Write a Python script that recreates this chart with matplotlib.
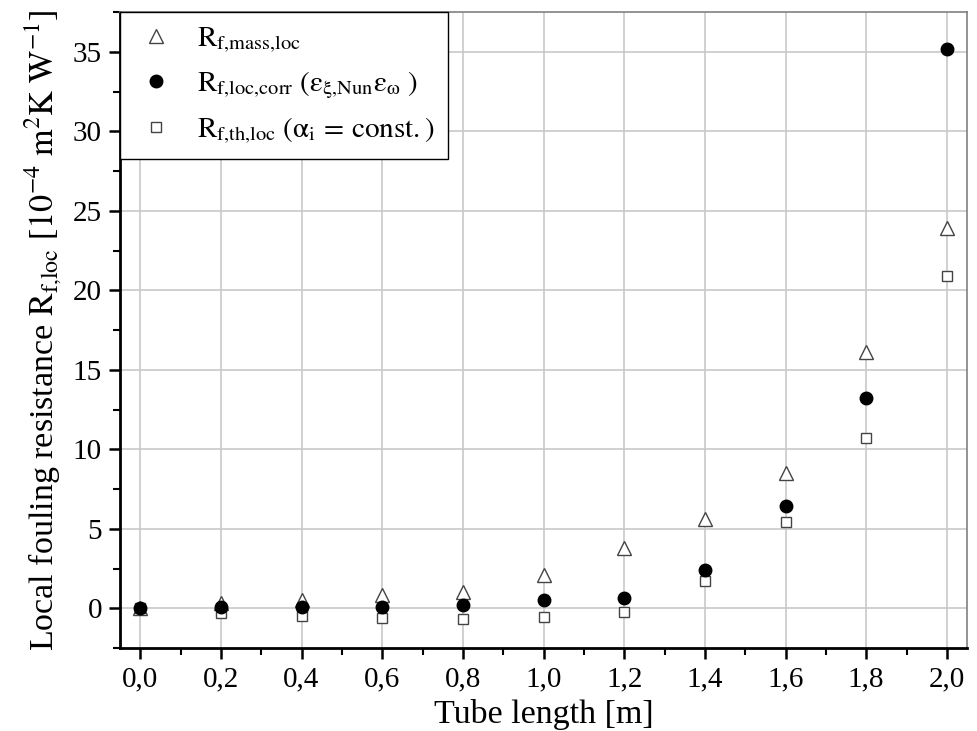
import matplotlib
matplotlib.use("Agg")
import matplotlib.pyplot as plt
from matplotlib.ticker import MultipleLocator, FuncFormatter

plt.rcParams['font.family'] = ['Liberation Serif', 'DejaVu Serif']
plt.rcParams['mathtext.fontset'] = 'stix'

tube_length = [0.0, 0.2, 0.4, 0.6, 0.8, 1.0, 1.2, 1.4, 1.6, 1.8, 2.0]
rf_mass_loc = [0.0, 0.35, 0.5, 0.85, 1.0, 2.1, 3.8, 5.6, 8.5, 16.1, 23.9]
rf_loc_corr = [0.0, 0.05, 0.1, 0.05, 0.2, 0.5, 0.65, 2.4, 6.4, 13.2, 35.2]
rf_th_loc = [0.0, -0.33, -0.5, -0.6, -0.67, -0.54, -0.23, 1.7, 5.4, 10.7, 20.9]

label_mass = r'$\mathrm{R}_{\mathrm{f{,}mass{,}loc}}$'
label_corr = r'$\mathrm{R}_{\mathrm{f{,}loc{,}corr}}\ (\mathrm{ε}_{\mathrm{ξ{,}Nun}}\mathrm{ε}_{\mathrm{ω}}\ )$'
label_th = r'$\mathrm{R}_{\mathrm{f{,}th{,}loc}}\ (\mathrm{α}_{\mathrm{i}}\,=\,\mathrm{const.})$'

fig = plt.figure(figsize=(9.77, 7.31), dpi=100)
ax = fig.add_axes([120/977, 1-648/731, (967-120)/977, (648-12)/731])

ax.plot(tube_length, rf_mass_loc, linestyle='none', marker='^', ms=10,
        mfc='white', mec='#444444', mew=1.0, label=label_mass, zorder=3)
ax.plot(tube_length, rf_loc_corr, linestyle='none', marker='o', ms=9,
        mfc='black', mec='black', label=label_corr, zorder=4)
ax.plot(tube_length, rf_th_loc, linestyle='none', marker='s', ms=7.5,
        mfc='white', mec='#444444', mew=1.0, label=label_th, zorder=3)

ax.set_xlim(-0.05, 2.05)
ax.set_ylim(-2.5, 37.5)
ax.xaxis.set_major_locator(MultipleLocator(0.2))
ax.xaxis.set_minor_locator(MultipleLocator(0.1))
ax.yaxis.set_major_locator(MultipleLocator(5))
ax.yaxis.set_minor_locator(MultipleLocator(2.5))
ax.xaxis.set_major_formatter(FuncFormatter(lambda v, p: f"{v:.1f}".replace('.', ',')))
ax.yaxis.set_major_formatter(FuncFormatter(lambda v, p: f"{v:.0f}"))

ax.grid(True, which='major', color='#c8c8c8', linewidth=1.2, zorder=0)
ax.set_axisbelow(True)

for s in ['left', 'bottom']:
    ax.spines[s].set_linewidth(2.0)
    ax.spines[s].set_color('black')
for s in ['top', 'right']:
    ax.spines[s].set_linewidth(1.2)
    ax.spines[s].set_color('#808080')

ax.tick_params(which='major', direction='out', length=8, width=1.8, labelsize=21, pad=5)
ax.tick_params(which='minor', direction='out', length=5, width=1.5)

ax.set_xlabel('Tube length [m]', fontsize=24.5, labelpad=5)
ax.set_ylabel(r'Local fouling resistance $\mathrm{R}_{\mathrm{f{,}loc}}$ [$\mathrm{10^{-4}\ m^{2}K\ W^{-1}}$]',
              fontsize=24.5, labelpad=6)

leg = ax.legend(loc='upper left', borderaxespad=0, fontsize=21, frameon=True,
                fancybox=False, edgecolor='black', framealpha=1,
                handletextpad=0.6, borderpad=0.45, labelspacing=0.5, handlelength=1.6)
leg.get_frame().set_linewidth(1.0)

fig.savefig('out.png', dpi=100)
